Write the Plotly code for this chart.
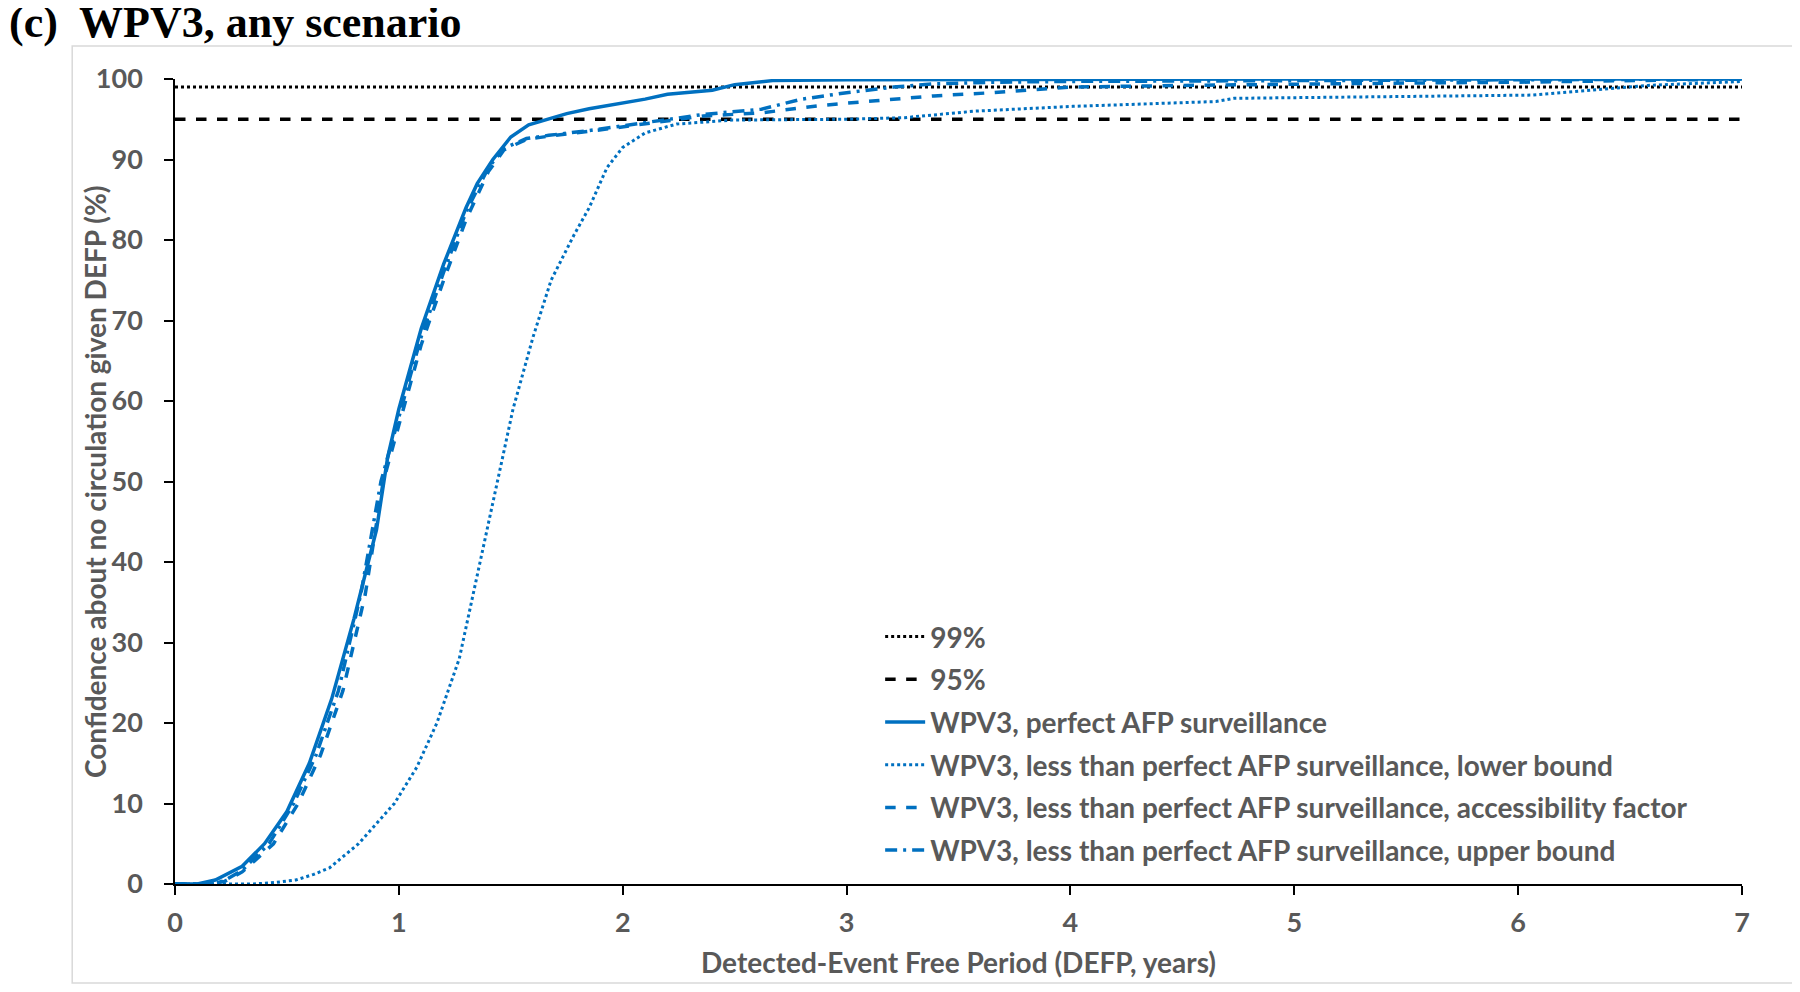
import plotly.graph_objects as go

# ---- data ----
thr_x = [0, 7]
thr99 = [99, 99]
thr95 = [95, 95]

perfect_x = [0, 0.1, 0.18, 0.25, 0.3, 0.4, 0.5, 0.6, 0.7, 0.8, 0.9, 0.95, 1.0, 1.1, 1.2, 1.3, 1.35, 1.42,
             1.5, 1.58, 1.67, 1.75, 1.85, 2.0, 2.1, 2.2, 2.34, 2.4, 2.5, 2.67, 3.0, 4.0, 5.0, 6.0, 7.0]
perfect_y = [0, 0, 0.5, 1.5, 2.2, 5, 9, 15, 23, 33, 44, 53, 59, 69, 77, 84, 87, 90,
             92.8, 94.3, 95, 95.7, 96.3, 97, 97.5, 98.1, 98.4, 98.6, 99.3, 99.8, 99.9, 100, 100, 100, 100]

lower_x = [0, 0.35, 0.45, 0.54, 0.62, 0.69, 0.82, 0.9, 0.98, 1.08, 1.17, 1.27, 1.37, 1.44, 1.51, 1.6,
           1.68, 1.78, 1.85, 1.93, 2.0, 2.1, 2.24, 2.49, 3.0, 3.26, 3.47, 3.57, 4.01, 4.3, 4.65, 4.73,
           5.3, 6.06, 6.32, 6.58, 7.0]
lower_y = [0, 0, 0.2, 0.5, 1.2, 2, 5, 7.5, 10, 14.5, 20, 28, 41, 50, 59, 68,
           75, 80.5, 84, 89, 91.5, 93.3, 94.4, 94.9, 95, 95.2, 95.7, 96, 96.6, 96.9, 97.2, 97.6,
           97.8, 98, 98.6, 99.2, 99.7]

access_x = [0, 0.15, 0.22, 0.3, 0.44, 0.55, 0.65, 0.75, 0.85, 0.93, 1.0, 1.1, 1.2, 1.3, 1.4, 1.47,
            1.57, 1.67, 1.85, 1.98, 2.13, 2.24, 2.36, 2.62, 2.88, 3.13, 3.39, 3.65, 3.88, 4.0, 4.5,
            5.0, 5.5, 6.0, 6.5, 7.0]
access_y = [0, 0, 0.3, 1.5, 5, 10, 16, 24, 36, 50, 57, 67, 75, 82.5, 88.5, 91.2,
            92.5, 92.9, 93.5, 94, 94.6, 95, 95.4, 95.8, 96.7, 97.3, 97.9, 98.3, 98.8, 99, 99.2,
            99.4, 99.5, 99.6, 99.8, 100]

upper_x = [0, 0.15, 0.22, 0.3, 0.42, 0.53, 0.63, 0.73, 0.83, 0.92, 1.0, 1.1, 1.2, 1.3, 1.4, 1.47,
           1.57, 1.67, 1.85, 1.98, 2.13, 2.24, 2.36, 2.62, 2.8, 3.0, 3.21, 3.39, 3.65, 4.0, 4.5,
           5.0, 6.0, 7.0]
upper_y = [0, 0, 0.4, 1.7, 5, 10, 16, 24, 36, 50, 58, 68, 76, 83.5, 89, 91.4,
           92.6, 93, 93.6, 94.1, 94.7, 95.1, 95.6, 96.25, 97.5, 98.3, 99, 99.4, 99.6, 99.7, 99.75,
           99.8, 99.9, 100]

x_ticks = [0, 1, 2, 3, 4, 5, 6, 7]
y_ticks = [0, 10, 20, 30, 40, 50, 60, 70, 80, 90, 100]

BLUE = "#0070C0"
GRAY = "#595959"
FONT = "Lato"

fig = go.Figure()
series = [
    ("99%", thr_x, thr99, "black", "dot", 3),
    ("95%", thr_x, thr95, "black", "dash", 3.5),
    ("WPV3, perfect AFP surveillance", perfect_x, perfect_y, BLUE, "solid", 3.5),
    ("WPV3, less than perfect AFP surveillance, lower bound", lower_x, lower_y, BLUE, "dot", 3),
    ("WPV3, less than perfect AFP surveillance, accessibility factor", access_x, access_y, BLUE, "dash", 3.5),
    ("WPV3, less than perfect AFP surveillance, upper bound", upper_x, upper_y, BLUE, "12px,6px,3px,6px", 3.5),
]
for i, (name, xs, ys, col, dash, w) in enumerate(series):
    fig.add_trace(go.Scatter(x=xs, y=ys, mode="lines", name=name, legendgroup=f"g{i}",
                             line=dict(color=col, dash=dash, width=w)))

frame = dict(type="rect", xref="paper", yref="paper", x0=-0.0656, x1=1.0327, y0=-0.123, y1=1.041,
             line=dict(color="#d9d9d9", width=1.5), fillcolor="rgba(0,0,0,0)", layer="below")

tf = dict(family=FONT, size=27, color=GRAY, weight="bold")
lf = dict(family=FONT, size=28, color=GRAY, weight="bold")
fig.update_layout(
    width=1792, height=984,
    paper_bgcolor="white", plot_bgcolor="white",
    margin=dict(l=166.5, r=58.3, t=71, b=108, autoexpand=False),
    shapes=[frame],
    annotations=[
        dict(text="<b>(c)  WPV3, any scenario</b>", xref="paper", yref="paper",
             x=-0.1075, y=1.0708, xanchor="left", yanchor="middle", showarrow=False,
             font=dict(family="Liberation Serif", size=44, color="black")),
        dict(text="Detected-Event Free Period (DEFP, years)", xref="paper", yref="paper",
             x=0.5, y=-0.0969, xanchor="center", yanchor="middle", showarrow=False, font=lf),
        dict(text="Confidence about no circulation given DEFP (%)", xref="paper", yref="paper",
             x=-0.0514, y=0.5, xanchor="center", yanchor="middle", textangle=-90,
             showarrow=False, font=lf),
    ],
    legend=dict(x=0.45, y=0.338, xanchor="left", yanchor="top", bgcolor="rgba(0,0,0,0)",
                font=lf, tracegroupgap=3.3, itemwidth=40),
    xaxis=dict(range=[0, 7], tickvals=x_ticks, showgrid=False, zeroline=False, automargin=False,
               showline=True, linecolor="black", linewidth=1.5,
               ticks="outside", ticklen=9, tickcolor="black", tickwidth=1.5,
               ticklabelstandoff=5, tickfont=tf),
    yaxis=dict(range=[0, 100], tickvals=y_ticks, showgrid=False, zeroline=False, automargin=False,
               showline=True, linecolor="black", linewidth=1.5,
               ticks="outside", ticklen=9, tickcolor="black", tickwidth=1.5,
               ticklabelstandoff=16, tickfont=tf),
)

fig.write_html("out.html")
